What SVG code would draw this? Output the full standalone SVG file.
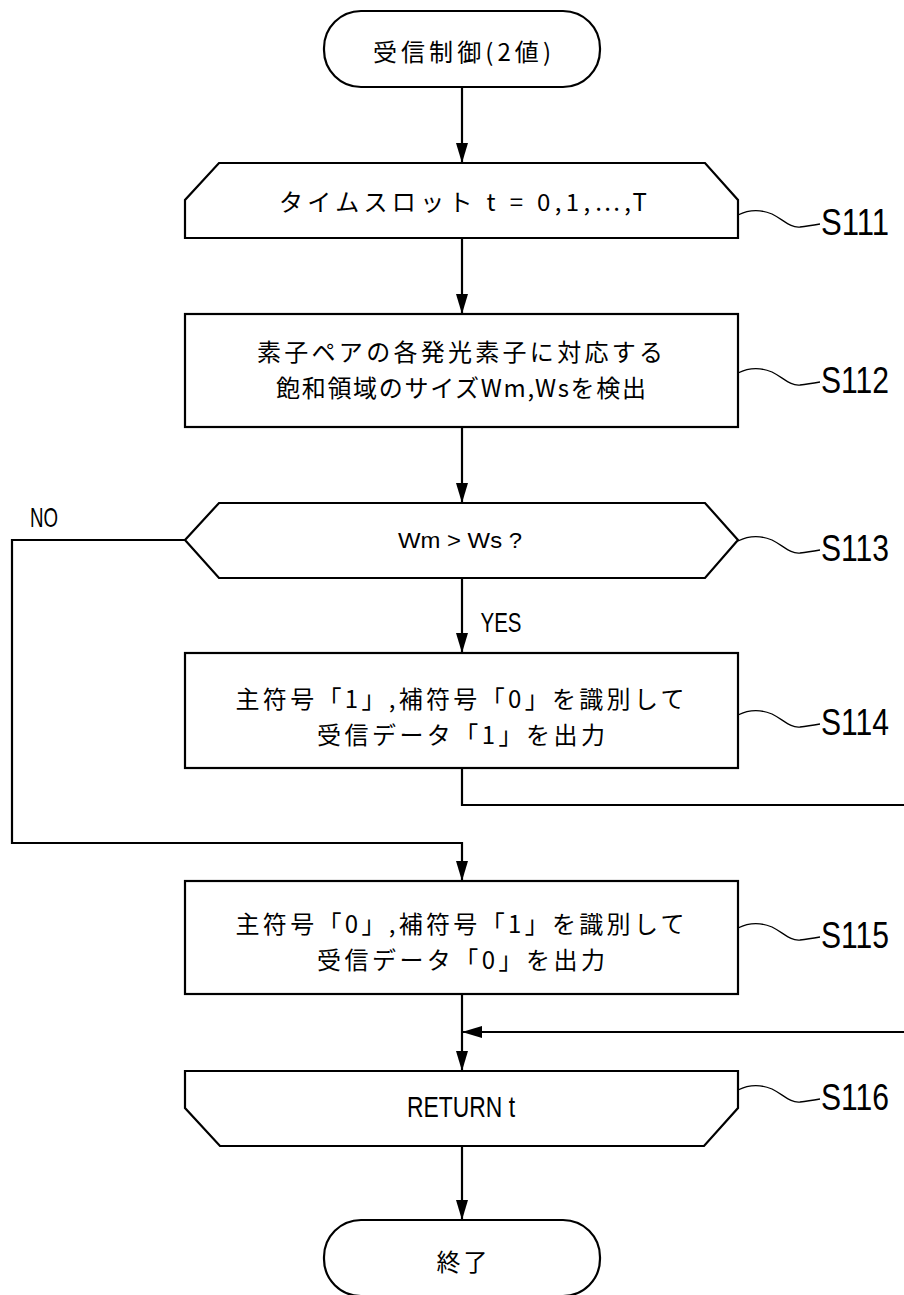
<svg xmlns="http://www.w3.org/2000/svg" width="904" height="1295" viewBox="0 0 904 1295">
<style>
.shape{fill:#fff;stroke:#000;stroke-width:2.2}
.conn{fill:none;stroke:#000;stroke-width:2.2}
.lead{fill:none;stroke:#000;stroke-width:1.3}
.jp{font-family:"Noto Sans CJK JP","Noto Sans CJK SC",sans-serif;font-size:24px;fill:#000;text-anchor:middle;dominant-baseline:central}
.lat{font-family:"Liberation Sans",Arial,sans-serif;fill:#000;text-anchor:middle;dominant-baseline:central}
.lbl{font-family:"Liberation Sans",Arial,sans-serif;font-size:36px;fill:#000;dominant-baseline:central}
</style>
<defs>
<marker id="ah" markerUnits="userSpaceOnUse" markerWidth="20" markerHeight="12" refX="20" refY="6" orient="auto">
<path d="M0,0 L20,6 L0,12 z" fill="#000"/>
</marker>
</defs>
<g id="connectors">
<line class="conn" x1="462" y1="87" x2="462" y2="163" marker-end="url(#ah)"/>
<line class="conn" x1="462" y1="238" x2="462" y2="314" marker-end="url(#ah)"/>
<line class="conn" x1="462" y1="427" x2="462" y2="503" marker-end="url(#ah)"/>
<line class="conn" x1="462" y1="578" x2="462" y2="653" marker-end="url(#ah)"/>
<polyline class="conn" points="185,540 12,540 12,843 462,843 462,881" marker-end="url(#ah)"/>
<polyline class="conn" points="462,768 462,805 904,805"/>
<line class="conn" x1="904" y1="1032" x2="462" y2="1032" marker-end="url(#ah)"/>
<line class="conn" x1="462" y1="994" x2="462" y2="1071" marker-end="url(#ah)"/>
<line class="conn" x1="462" y1="1146" x2="462" y2="1220" marker-end="url(#ah)"/>
<text class="lat" x="44" y="517" font-size="28" textLength="28" lengthAdjust="spacingAndGlyphs">NO</text>
<text class="lat" x="501" y="622" font-size="28" textLength="41" lengthAdjust="spacingAndGlyphs">YES</text>
</g>
<g id="start">
<rect class="shape" x="324" y="11" width="276" height="76" rx="37" ry="37"/>
<text class="jp" x="462" y="50" textLength="178">受信制御(2値)</text>
</g>
<g id="S111">
<polygon class="shape" points="185,238 185,200 219,163 705,163 738,200 738,238"/>
<text class="jp" x="463" y="200" textLength="368">タイムスロット t = 0,1,…,T</text>
<path class="lead" d="M738,215 C748,210 760,209 772,214 C784,220 790,228 800,227 C808,226 814,225 820,224"/>
<text class="lbl" x="821" y="222" textLength="68" lengthAdjust="spacingAndGlyphs">S111</text>
</g>
<g id="S112">
<rect class="shape" x="185" y="314" width="553" height="113"/>
<text class="jp" x="460" y="350" textLength="406">素子ペアの各発光素子に対応する</text>
<text class="jp" x="461" y="386" textLength="370">飽和領域のサイズWm,Wsを検出</text>
<path class="lead" d="M738,373 C748,368 760,367 772,372 C784,378 790,386 800,385 C808,384 814,383 820,382"/>
<text class="lbl" x="821" y="380" textLength="68" lengthAdjust="spacingAndGlyphs">S112</text>
</g>
<g id="S113">
<polygon class="shape" points="185,540 219,503 705,503 738,540 705,578 219,578"/>
<text class="lat" x="460" y="540" font-size="22" textLength="124" lengthAdjust="spacingAndGlyphs">Wm &gt; Ws ?</text>
<path class="lead" d="M738,541 C748,536 760,535 772,540 C784,546 790,554 800,553 C808,552 814,551 820,550"/>
<text class="lbl" x="821" y="548" textLength="68" lengthAdjust="spacingAndGlyphs">S113</text>
</g>
<g id="S114">
<rect class="shape" x="185" y="653" width="553" height="115"/>
<text class="jp" x="460" y="697" textLength="449">主符号「1」,補符号「0」を識別して</text>
<text class="jp" x="461" y="733" textLength="288">受信データ「1」を出力</text>
<path class="lead" d="M738,715 C748,710 760,709 772,714 C784,720 790,728 800,727 C808,726 814,725 820,724"/>
<text class="lbl" x="821" y="722" textLength="68" lengthAdjust="spacingAndGlyphs">S114</text>
</g>
<g id="S115">
<rect class="shape" x="185" y="881" width="553" height="113"/>
<text class="jp" x="460" y="922" textLength="449">主符号「0」,補符号「1」を識別して</text>
<text class="jp" x="461" y="958" textLength="288">受信データ「0」を出力</text>
<path class="lead" d="M738,928 C748,923 760,922 772,927 C784,933 790,941 800,940 C808,939 814,938 820,937"/>
<text class="lbl" x="821" y="935" textLength="68" lengthAdjust="spacingAndGlyphs">S115</text>
</g>
<g id="S116">
<polygon class="shape" points="185,1071 738,1071 738,1108 704,1146 220,1146 185,1108"/>
<text class="lat" x="461" y="1107" font-size="29" textLength="108" lengthAdjust="spacingAndGlyphs">RETURN t</text>
<path class="lead" d="M738,1090 C748,1085 760,1084 772,1089 C784,1095 790,1103 800,1102 C808,1101 814,1100 820,1099"/>
<text class="lbl" x="821" y="1097" textLength="68" lengthAdjust="spacingAndGlyphs">S116</text>
</g>
<g id="end">
<rect class="shape" x="324" y="1220" width="276" height="76" rx="37" ry="37"/>
<text class="jp" x="462" y="1260" textLength="51">終了</text>
</g>
</svg>
